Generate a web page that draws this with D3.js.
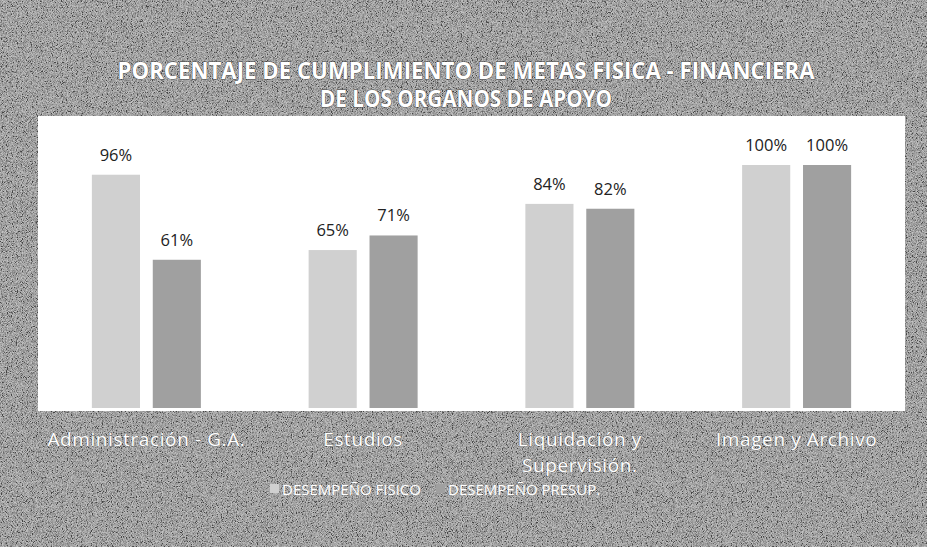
<!DOCTYPE html>
<html>
  <head>
    <meta charset="utf-8">
    <script src="https://cdn.jsdelivr.net/npm/d3@7"></script>
    <style>
      body { margin: 0; background: #8a8a8a; }
      text { font-family: "Open Sans", "Noto Sans", sans-serif; }
    </style>
  </head>
  <body>
    <script>
      // data
      var categories = ["Administración - G.A.", "Estudios", "Liquidación y|Supervisión.", "Imagen y Archivo"];
      var series = ["DESEMPEÑO FISICO", "DESEMPEÑO PRESUP."];
      var fisico = [96, 65, 84, 100];
      var presup = [61, 71, 82, 100];
      var titleLines = ["PORCENTAJE DE CUMPLIMIENTO DE METAS FISICA - FINANCIERA", "DE LOS ORGANOS DE APOYO"];

      var w = 927, h = 547;
      var panel = {x: 38, y: 116, w: 867, h: 295};
      var baseY = 408;
      var colors = ["#d0d0d0", "#a0a0a0"];

      var svg = d3.select("body").append("svg")
        .attr("width", w)
        .attr("height", h);

      // grainy scanned background
      var defs = svg.append("defs");
      var f = defs.append("filter").attr("id", "grain").attr("x", 0).attr("y", 0).attr("width", "100%").attr("height", "100%");
      f.append("feTurbulence").attr("type", "fractalNoise").attr("baseFrequency", 1.2).attr("numOctaves", 1).attr("seed", 3).attr("result", "n");
      f.append("feColorMatrix").attr("type", "matrix").attr("in", "n")
        .attr("values", "2.4 0 0 0 -0.72  2.4 0 0 0 -0.72  2.4 0 0 0 -0.72  0 0 0 0 1");

      svg.append("rect").attr("width", w).attr("height", h).attr("fill", "#8a8a8a");
      svg.append("rect").attr("width", w).attr("height", h).attr("filter", "url(#grain)").attr("opacity", 0.5);

      // title
      svg.selectAll(".title")
        .data(titleLines)
        .enter()
        .append("text")
        .attr("class", "title")
        .attr("x", 466)
        .attr("y", (d, i) => 79 + i * 28)
        .attr("text-anchor", "middle")
        .attr("font-size", "22.5px")
        .attr("font-weight", "bold")
        .attr("textLength", (d, i) => i ? 292 : 697)
        .attr("lengthAdjust", "spacingAndGlyphs")
        .attr("fill", "#fff")
        .attr("stroke", "#444")
        .attr("stroke-width", 0.8)
        .attr("paint-order", "stroke")
        .text(d => d);

      // white plot panel
      svg.append("rect")
        .attr("x", panel.x).attr("y", panel.y)
        .attr("width", panel.w).attr("height", panel.h)
        .attr("fill", "#fff");

      var x0 = d3.scaleBand()
        .domain(categories)
        .range([panel.x, panel.x + panel.w])
        .paddingInner(0)
        .paddingOuter(0);
      var x1 = d3.scaleBand()
        .domain(series)
        .range([x0.bandwidth() / 2 - 54.5, x0.bandwidth() / 2 + 54.5])
        .paddingInner(0.21);
      var y = d3.scaleLinear()
        .domain([0, 100])
        .range([baseY, baseY - 243]);

      var rows = categories.map((c, i) => ({cat: c, vals: [fisico[i], presup[i]]}));

      var groups = svg.selectAll(".grp")
        .data(rows)
        .enter()
        .append("g")
        .attr("transform", d => "translate(" + x0(d.cat) + ",0)");

      groups.selectAll("rect")
        .data(d => d.vals.map((v, j) => ({s: series[j], v: v, j: j})))
        .enter()
        .append("rect")
        .attr("x", d => x1(d.s))
        .attr("y", d => y(d.v))
        .attr("width", x1.bandwidth())
        .attr("height", d => y(0) - y(d.v))
        .attr("fill", d => colors[d.j]);

      groups.selectAll(".lbl")
        .data(d => d.vals.map((v, j) => ({s: series[j], v: v})))
        .enter()
        .append("text")
        .attr("class", "lbl")
        .attr("x", d => x1(d.s) + x1.bandwidth() / 2)
        .attr("y", d => y(d.v) - 14)
        .attr("text-anchor", "middle")
        .attr("font-size", "16.5px")
        .attr("fill", "#222")
        .text(d => d.v + "%");

      // category axis labels
      var cat = svg.selectAll(".cat")
        .data(categories)
        .enter()
        .append("text")
        .attr("class", "cat")
        .attr("x", d => x0(d) + x0.bandwidth() / 2)
        .attr("y", 446)
        .attr("text-anchor", "middle")
        .attr("font-size", "19px")
        .attr("letter-spacing", "0.6px")
        .attr("fill", "#fff")
        .attr("stroke", "#555")
        .attr("stroke-width", 0.5)
        .attr("paint-order", "stroke");
      cat.selectAll("tspan")
        .data(d => d.split("|"))
        .enter()
        .append("tspan")
        .attr("x", function () { return d3.select(this.parentNode).attr("x"); })
        .attr("dy", (d, i) => i ? 26 : 0)
        .text(d => d);

      // legend
      var legX = [270, 436];
      var leg = svg.selectAll(".leg")
        .data(series)
        .enter()
        .append("g")
        .attr("transform", (d, i) => "translate(" + legX[i] + ",489)");
      leg.append("rect")
        .attr("x", 0).attr("y", -5)
        .attr("width", 9).attr("height", 9)
        .attr("fill", (d, i) => colors[i]);
      leg.append("text")
        .attr("x", 12)
        .attr("y", 5.5)
        .attr("font-size", "15px")
        .attr("fill", "#fff")
        .text(d => d);
    </script>
  </body>
</html>
